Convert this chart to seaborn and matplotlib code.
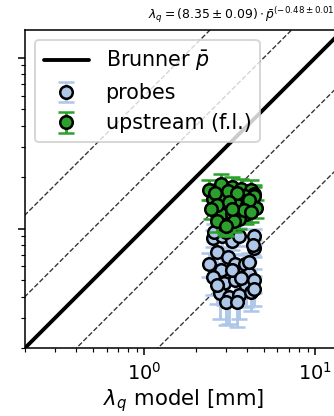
import matplotlib
matplotlib.use("Agg")
import matplotlib.pyplot as plt
import seaborn as sns

# Probe-based heat-flux widths: model (x) vs measured (y), in mm
probe_model = [2.50, 2.86, 3.23, 3.59, 4.40, 4.40, 4.29, 2.67, 3.06, 3.40,
               2.82, 3.85, 4.11, 4.11, 2.53, 2.90, 3.40, 3.90, 4.40, 2.75,
               3.14, 3.59, 4.22, 2.98, 3.50, 2.40, 2.64, 3.23, 3.69, 4.35,
               3.00, 2.55]
probe_meas = [0.875, 0.90, 0.84, 0.90, 0.90, 0.77, 0.80, 0.73, 0.68, 0.62,
              0.575, 0.62, 0.545, 0.64, 0.52, 0.477, 0.50, 0.458, 0.50, 0.417,
              0.395, 0.406, 0.428, 0.374, 0.374, 0.62, 0.47, 0.575, 0.515, 0.44,
              0.96, 0.95]
probe_err = [0.10, 0.12, 0.09, 0.11, 0.10, 0.09, 0.10, 0.10, 0.09, 0.09,
             0.10, 0.08, 0.09, 0.08, 0.11, 0.12, 0.10, 0.11, 0.08, 0.12,
             0.12, 0.11, 0.10, 0.10, 0.11, 0.10, 0.11, 0.09, 0.10, 0.09,
             0.12, 0.11]

# Upstream (field-line mapped) widths
up_model = [2.40, 2.82, 3.23, 3.69, 4.22, 4.40, 2.50, 2.94, 3.35, 3.85,
            4.40, 2.75, 3.06, 3.50, 4.00, 4.50, 2.82, 3.27, 3.95, 3.59,
            2.94, 3.35, 2.64, 2.57, 3.06, 3.50, 4.11, 2.67, 3.14, 3.80,
            4.22, 3.00, 3.23, 2.45]
up_meas = [1.69, 1.81, 1.76, 1.71, 1.69, 1.60, 1.48, 1.54, 1.50, 1.54,
           1.54, 1.26, 1.34, 1.38, 1.38, 1.31, 1.22, 1.22, 1.21, 1.14,
           1.055, 1.10, 1.10, 1.62, 1.65, 1.62, 1.46, 1.38, 1.42, 1.28,
           1.25, 1.03, 1.30, 1.30]
up_err = [0.22, 0.28, 0.25, 0.24, 0.22, 0.20, 0.18, 0.20, 0.19, 0.21,
          0.20, 0.15, 0.17, 0.18, 0.18, 0.16, 0.15, 0.16, 0.15, 0.14,
          0.13, 0.14, 0.14, 0.21, 0.22, 0.21, 0.19, 0.17, 0.18, 0.16,
          0.16, 0.13, 0.17, 0.17]

# Reference lines: y = x and y = x * k, y = x / k
ref_range = [0.1, 100.0]
spread_factors = [2.0, 6.0]

sns.set_style("ticks", {"axes.edgecolor": "black", "text.color": "black",
                        "xtick.color": "black", "ytick.color": "black",
                        "axes.labelcolor": "black"})
plt.rcParams["font.family"] = ["DejaVu Sans"]

dpi = 139
fig = plt.figure(figsize=(334 / dpi, 416 / dpi), dpi=dpi)
ax = fig.add_axes([25 / 334, 68 / 416, 318 / 334, 318 / 416])
ax.set_xscale("log")
ax.set_yscale("log")

for k in spread_factors:
    for f in (k, 1.0 / k):
        sns.lineplot(x=ref_range, y=[v * f for v in ref_range], ax=ax,
                     color="0.2", linewidth=0.7, linestyle="--", zorder=1)

sns.lineplot(x=ref_range, y=ref_range, ax=ax, color="black", linewidth=2,
             label=r"Brunner $\bar{p}$", zorder=2)

ax.errorbar(probe_model, probe_meas, yerr=probe_err, fmt="o",
            color="#aec7e8", mec="black", mew=1.3, ms=6.5,
            capsize=4, elinewidth=1.5, capthick=1.5,
            label="probes", zorder=3)
ax.errorbar(up_model, up_meas, yerr=up_err, fmt="o",
            color="#2ca02c", mec="black", mew=1.3, ms=6.5,
            capsize=4, elinewidth=1.5, capthick=1.5,
            label="upstream (f.l.)", zorder=4)

ax.set_xlim(0.2, 14.5)
ax.set_ylim(0.2, 14.5)
ax.tick_params(axis="y", labelleft=False)
ax.set_xlabel(r"$\lambda_q$ model [mm]", fontsize=11, labelpad=2)
ax.set_title(r"$\lambda_q = (8.35 \pm 0.09) \cdot \bar{p}^{(-0.48 \pm 0.01)}$",
             loc="left", x=0.387, fontsize=6.4, pad=6)
ax.legend(loc="upper left", fontsize=10.7, handlelength=2.2)

fig.savefig("out.png", dpi=dpi)
